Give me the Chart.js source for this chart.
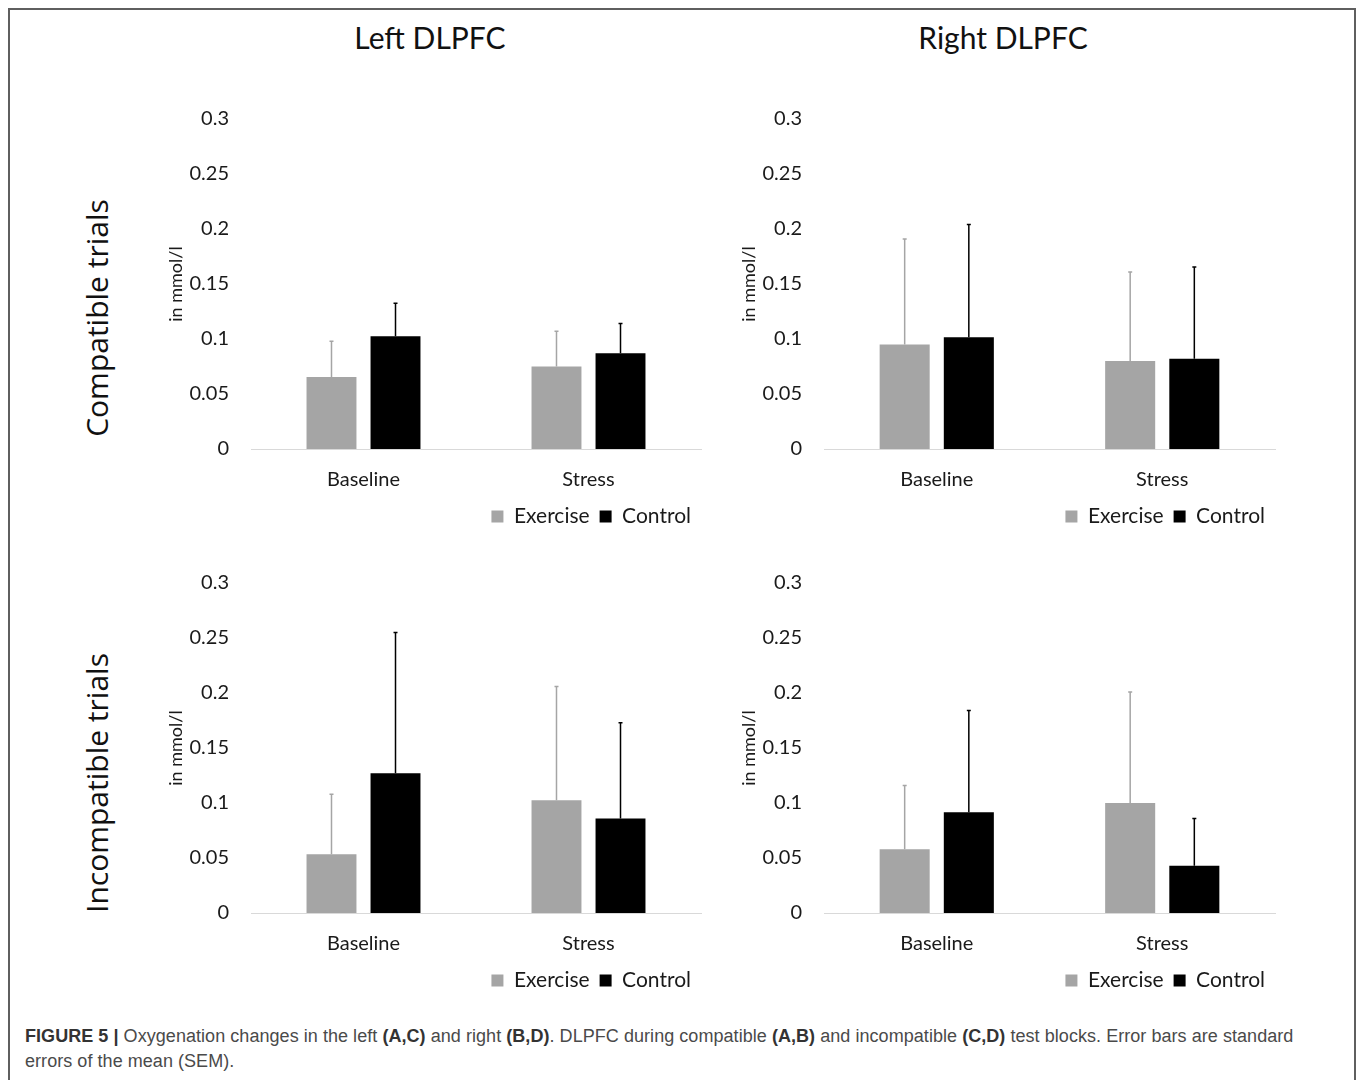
<!DOCTYPE html>
<html>
<head>
<meta charset="utf-8">
<script src="https://cdn.jsdelivr.net/npm/chart.js@4.4.0/dist/chart.umd.min.js"></script>
<style>
  body { margin: 0; background: #fff; }
  #page { position: relative; width: 1358px; height: 1080px; overflow: hidden; background: #fff; }
  #frame { position: absolute; left: 8px; top: 8px; width: 1344px; height: 1100px;
           border: 2px solid #5f5f5f; border-bottom: none; }
  .col-title { position: absolute; top: 19px; font: 30px Lato, sans-serif; color: #111;
               transform: translateX(-50%); white-space: nowrap; line-height: 36px; }
  .row-title { position: absolute; font: 30px "Open Sans", sans-serif; color: #111; white-space: nowrap;
               transform: translate(-50%, -50%) rotate(-90deg); line-height: 36px; }
  canvas { position: absolute; }
  #caption { position: absolute; left: 25px; top: 1024px; font: 18px "Liberation Sans Narrow", "Liberation Sans", Arial, sans-serif;
             color: #4a4a4a; line-height: 25px; white-space: nowrap; letter-spacing: 0.05px; }
  #caption b { color: #333; }
</style>
</head>
<body>
<div id="page">
  <div id="frame"></div>
  <div class="col-title" style="left:430px">Left DLPFC</div>
  <div class="col-title" style="left:1003px">Right DLPFC</div>
  <div class="row-title" style="left:97px; top:318px">Compatible trials</div>
  <div class="row-title" style="left:97px; top:783px">Incompatible trials</div>

  <canvas id="chartA" width="545" height="455" style="left:160px; top:85px"></canvas>
  <canvas id="chartB" width="546" height="455" style="left:733px; top:85px"></canvas>
  <canvas id="chartC" width="545" height="455" style="left:160px; top:549px"></canvas>
  <canvas id="chartD" width="546" height="455" style="left:733px; top:549px"></canvas>

  <div id="caption"><b>FIGURE 5 |</b> Oxygenation changes in the left <b>(A,C)</b> and right <b>(B,D)</b>. DLPFC during compatible <b>(A,B)</b> and incompatible <b>(C,D)</b> test blocks. Error bars are standard<br>errors of the mean (SEM).</div>
</div>

<script>
const categories = ['Baseline', 'Stress']
const seriesNames = ['Exercise', 'Control']
const yTicks = [0, 0.05, 0.1, 0.15, 0.2, 0.25, 0.3]

// A: left DLPFC, compatible
const leftCompExercise = [0.0655, 0.075]
const leftCompExerciseErr = [0.0325, 0.032]
const leftCompControl = [0.1025, 0.087]
const leftCompControlErr = [0.030, 0.027]

// B: right DLPFC, compatible
const rightCompExercise = [0.095, 0.080]
const rightCompExerciseErr = [0.096, 0.081]
const rightCompControl = [0.1015, 0.082]
const rightCompControlErr = [0.1025, 0.0835]

// C: left DLPFC, incompatible
const leftIncompExercise = [0.0535, 0.1025]
const leftIncompExerciseErr = [0.0545, 0.1035]
const leftIncompControl = [0.127, 0.086]
const leftIncompControlErr = [0.128, 0.087]

// D: right DLPFC, incompatible
const rightIncompExercise = [0.058, 0.100]
const rightIncompExerciseErr = [0.058, 0.101]
const rightIncompControl = [0.0915, 0.043]
const rightIncompControlErr = [0.0925, 0.043]

const exerciseColor = '#a5a5a5'
const controlColor = '#000000'

// draws the upper half of the SEM bars from the bar tops
const errorBars = {
  id: 'errorBars',
  afterDatasetsDraw(chart) {
    const ctx = chart.ctx
    const yScale = chart.scales.y
    chart.data.datasets.forEach((ds, i) => {
      const meta = chart.getDatasetMeta(i)
      meta.data.forEach((bar, j) => {
        const top = yScale.getPixelForValue(ds.data[j] + ds.errors[j])
        ctx.save()
        ctx.strokeStyle = ds.backgroundColor
        ctx.lineWidth = 1.5
        ctx.beginPath()
        ctx.moveTo(bar.x, bar.y)
        ctx.lineTo(bar.x, top)
        ctx.moveTo(bar.x - 2, top)
        ctx.lineTo(bar.x + 2, top)
        ctx.stroke()
        ctx.restore()
      })
    })
  }
}

function makeChart(id, exercise, exerciseErr, control, controlErr){
  return new Chart(document.getElementById(id), {
    type: 'bar',
    data: {
      labels: categories,
      datasets: [
        { label: seriesNames[0], data: exercise, errors: exerciseErr, backgroundColor: exerciseColor, borderWidth: 0 },
        { label: seriesNames[1], data: control, errors: controlErr, backgroundColor: controlColor, borderWidth: 0 }
      ]
    },
    options: {
      responsive: false,
      animation: false,
      events: [],
      categoryPercentage: 0.569,
      barPercentage: 0.78,
      layout: { padding: { top: 0, right: 4, bottom: 3, left: 0 } },
      plugins: {
        tooltip: { enabled: false },
        legend: {
          position: 'bottom',
          align: 'end',
          labels: {
            boxWidth: 12, boxHeight: 12, padding: 10,
            color: '#1a1a1a',
            font: { family: 'Lato', size: 21 }
          }
        }
      },
      scales: {
        x: {
          grid: { display: false, drawTicks: false },
          border: { display: true, color: '#d9d9d9', width: 1 },
          ticks: { color: '#1a1a1a', padding: 19, maxRotation: 0, font: { family: 'Lato', size: 20 } },
          afterFit(scale){ scale.height = 47 }
        },
        y: {
          min: 0, max: 0.3,
          afterBuildTicks(scale){ scale.ticks = yTicks.map(v => ({ value: v })) },
          grid: { display: false, drawTicks: false },
          border: { display: false },
          ticks: {
            color: '#1a1a1a', padding: 22,
            font: { family: 'Lato', size: 20 },
            callback: v => String(parseFloat(v.toFixed(2)))
          },
          title: { display: true, text: 'in mmol/l', color: '#1a1a1a', padding: 5, font: { family: 'Lato', size: 18 } },
          afterFit(scale){ scale.width = 91 }
        }
      }
    },
    plugins: [errorBars]
  })
}

makeChart('chartA', leftCompExercise, leftCompExerciseErr, leftCompControl, leftCompControlErr)
makeChart('chartB', rightCompExercise, rightCompExerciseErr, rightCompControl, rightCompControlErr)
makeChart('chartC', leftIncompExercise, leftIncompExerciseErr, leftIncompControl, leftIncompControlErr)
makeChart('chartD', rightIncompExercise, rightIncompExerciseErr, rightIncompControl, rightIncompControlErr)
</script>
</body>
</html>
